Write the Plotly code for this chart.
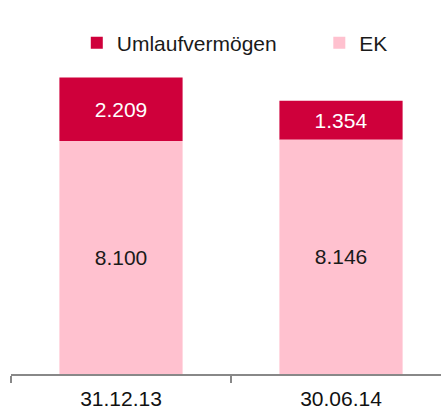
import plotly.graph_objects as go

categories = ["31.12.13", "30.06.14"]
ek_values = [8100, 8146]
umlauf_values = [2209, 1354]

CRIMSON = "#CF003B"
PINK = "#FFC1CF"
FONT = "Liberation Sans, Arial, sans-serif"

fig = go.Figure()
fig.add_trace(go.Bar(
    name="Umlaufvermögen", x=categories, y=umlauf_values, base=ek_values,
    marker=dict(color=CRIMSON, line=dict(width=0)),
    texttemplate="%{customdata:,.0f}", customdata=umlauf_values,
    textposition="inside", insidetextanchor="middle",
    textfont=dict(color="white", size=21, family=FONT),
    legend="legend",
))
fig.add_trace(go.Bar(
    name="EK", x=categories, y=ek_values,
    marker=dict(color=PINK, line=dict(width=0)),
    texttemplate="%{y:,.0f}",
    textposition="inside", insidetextanchor="middle",
    textfont=dict(color="#1a1a1a", size=21, family=FONT),
    legend="legend2",
))

leg_common = dict(orientation="h", yanchor="middle", y=1.054, xanchor="left",
                  font=dict(size=21, family=FONT, color="#1a1a1a"),
                  itemwidth=30, bgcolor="rgba(0,0,0,0)")

fig.update_layout(
    width=441, height=409,
    margin=dict(l=11, r=0, t=60, b=35, autoexpand=False),
    barmode="overlay", bargap=0.44,
    separators=",.",
    plot_bgcolor="white", paper_bgcolor="white",
    font=dict(family=FONT, size=21, color="#1a1a1a"),
    showlegend=True,
    legend=dict(x=0.153, **leg_common),
    legend2=dict(x=0.717, **leg_common),
    uniformtext=dict(minsize=21, mode="show"),
)
fig.update_xaxes(
    type="category", range=[-0.5, 1.4545], tickson="boundaries",
    ticks="outside", ticklen=7, tickwidth=2, tickcolor="#888888",
    showline=True, linecolor="#888888", linewidth=2, automargin=False,
    ticklabelstandoff=5,
    showgrid=False, tickfont=dict(size=21, family=FONT, color="#111111"),
)
fig.update_yaxes(range=[0, 10914], visible=False, showgrid=False)

fig.write_html("out.html", config={"displayModeBar": False},
               post_script="document.body.style.margin='0';document.body.style.overflow='hidden';")
